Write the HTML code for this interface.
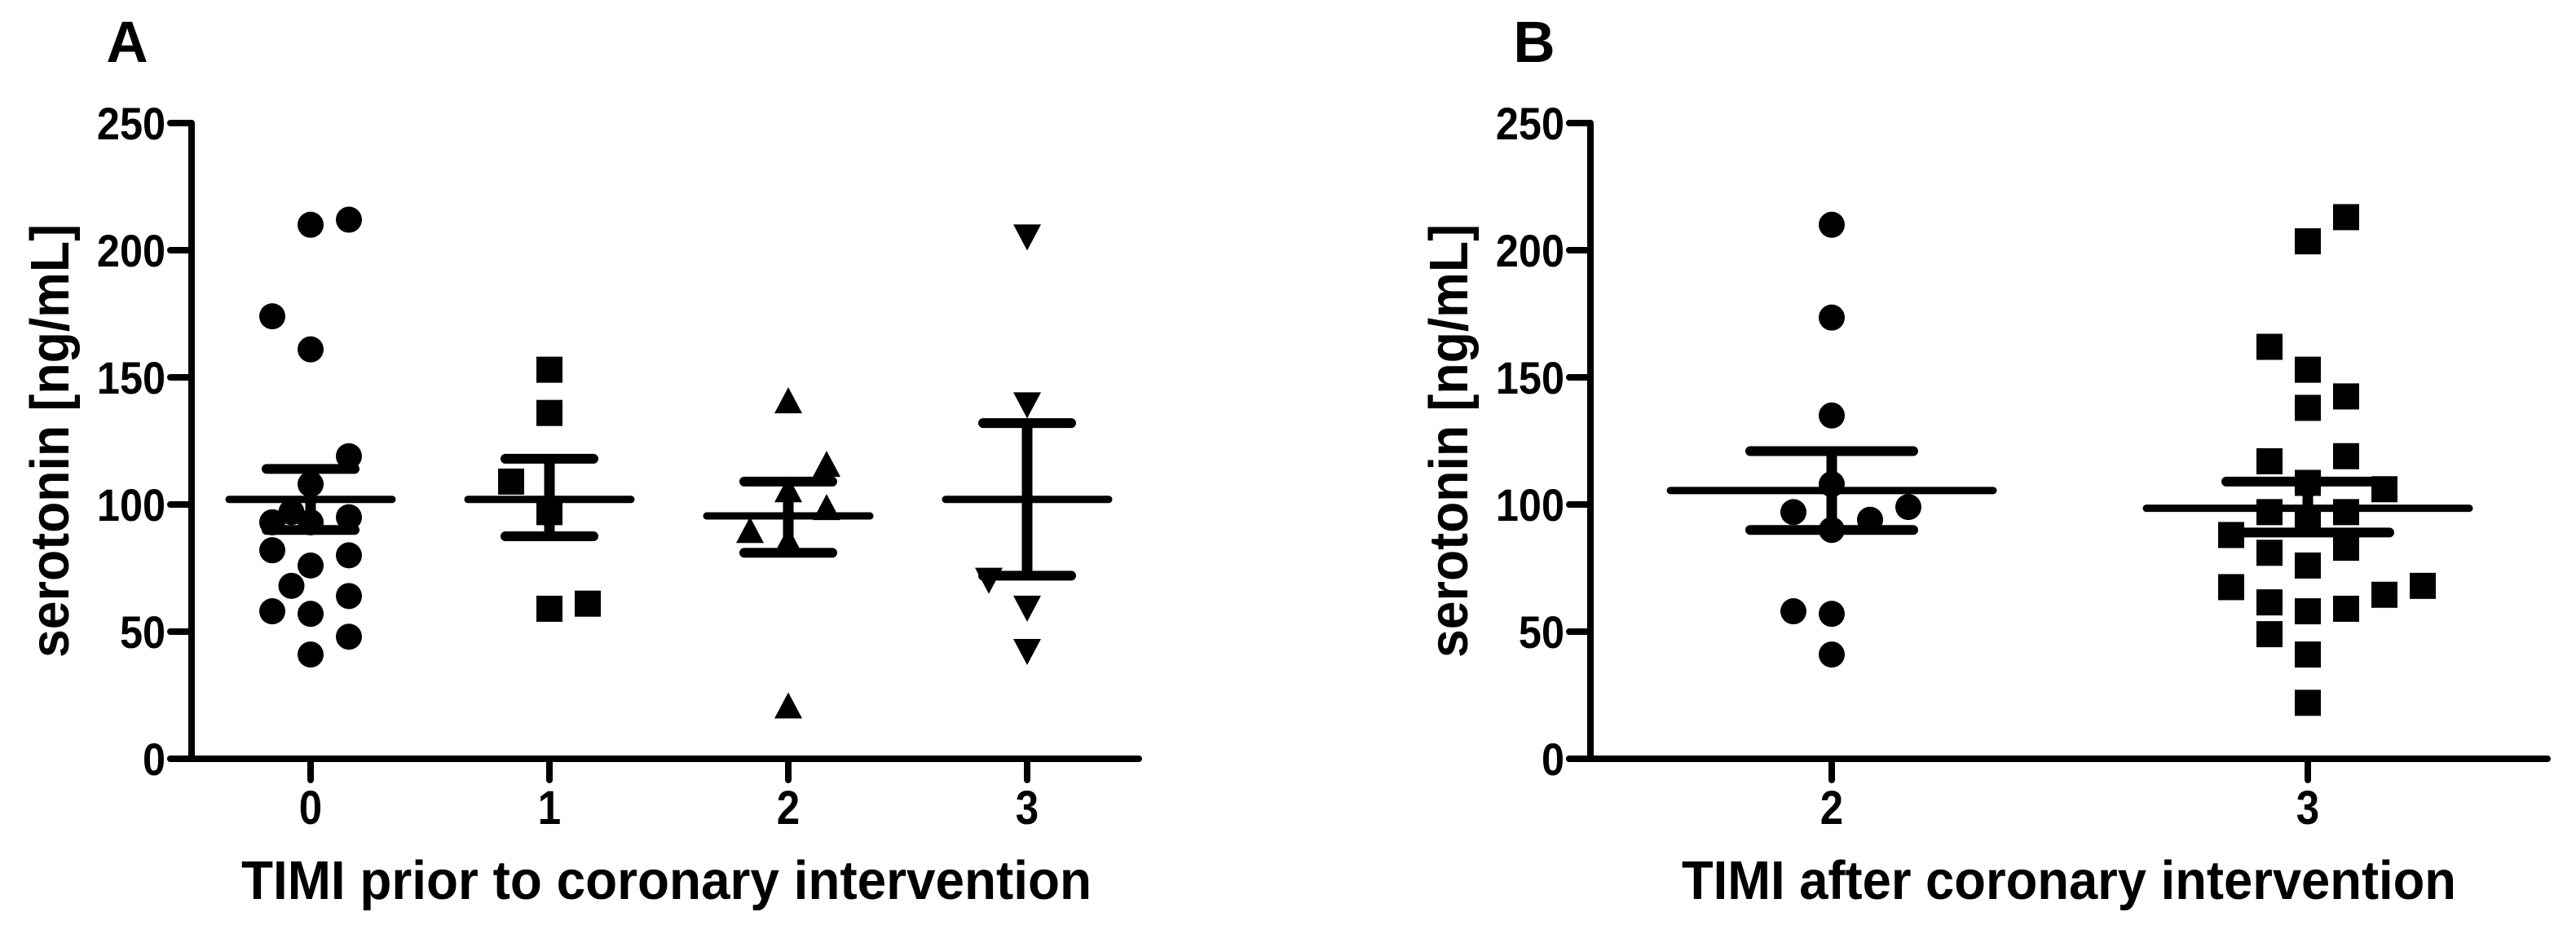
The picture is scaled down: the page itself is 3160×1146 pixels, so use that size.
<!DOCTYPE html>
<html><head><meta charset="utf-8"><style>
html,body{margin:0;padding:0;background:#fff;}
svg{display:block;font-family:"Liberation Sans",Arial,sans-serif;font-weight:bold;}
</style></head><body>
<svg id="chart" width="3160" height="1146" viewBox="0 0 3160 1146">
<g id="pA"></g>
<g id="pB"></g>
</svg>
<script>
const yTicks = [0, 50, 100, 150, 200, 250];
const catsA = ["0", "1", "2", "3"];
const catsB = ["2", "3"];
// panel A points: [value, jitter column]
const a0Vals = [210, 212, 174, 161, 119, 108, 97, 93, 93, 95, 82, 80, 76, 68, 64, 58, 57, 48, 41];
const a0Cols = [0, 1, -1, 0, 1, 0, -0.5, -1, 0, 1, -1, 1, 0, -0.5, 1, -1, 0, 1, 0];
const a1Vals = [153, 136, 109, 97, 59, 61];
const a1Cols = [0, 0, -1, 0, 0, 1];
const a2Vals = [141, 116, 106, 99, 90, 86, 21];
const a2Cols = [0, 1, 0, 1, -1, 0, 0];
const a3Vals = [205, 139, 70, 59, 42];
const a3Cols = [0, 0, -1, 0, 0];
const aMeans = [102, 102, 95.5, 102];
const aSemHi = [114, 118, 109, 132];
const aSemLo = [90, 87.5, 81, 72];
// panel B points
const b0Vals = [210, 173.5, 135, 108, 97, 99, 94, 90, 58, 57, 41];
const b0Cols = [0, 0, 0, 0, -1, 2, 1, 0, -1, 0, 0];
const b1Vals = [213, 203.5, 162, 153, 142.5, 138, 117, 119, 108.5, 106, 97, 97, 94.5, 88, 83, 81, 76, 67.5, 68, 64.5, 61.5, 59, 58, 49, 41, 22];
const b1Cols = [1, 0, -1, 0, 1, 0, -1, 1, 0, 2, -1, 1, 0, -2, 1, -1, 0, -2, 3, 2, -1, 1, 0, -1, 0, 0];
const bMeans = [105.5, 98.5];
const bSemHi = [121, 109];
const bSemLo = [90, 89];

const NS = "http://www.w3.org/2000/svg";
const Y0 = 931, Y250 = 151;
function yS(v){ return Y0 - (v / 250) * (Y0 - Y250); }
function mk(tag, attrs, parent){ const e = document.createElementNS(NS, tag); for (const k in attrs) e.setAttribute(k, attrs[k]); parent.appendChild(e); return e; }

function marker(g, shape, cx, cy){
  let e;
  if (shape === "circle") e = mk("circle", {cx: cx, cy: cy, r: 16, fill: "#000"}, g);
  else if (shape === "square") e = mk("rect", {x: cx - 16, y: cy - 16, width: 32, height: 32, fill: "#000"}, g);
  else if (shape === "up") e = mk("polygon", {points: `${cx},${cy-16} ${cx+17},${cy+16} ${cx-17},${cy+16}`, fill: "#000"}, g);
  else e = mk("polygon", {points: `${cx-17},${cy-16} ${cx+17},${cy-16} ${cx},${cy+16}`, fill: "#000"}, g);
  
  
}

function panel(g, opt){
  const ax = opt.axisX, xEnd = opt.xEnd;
  // letter
  const L = mk("text", {x: opt.letterX, y: 76, "font-size": 71, "text-anchor": "middle"}, g);
  L.textContent = opt.letter;
  
  
  // axes
  const yaxis = mk("line", {x1: ax, y1: Y250, x2: ax, y2: Y0 + 4, stroke: "#000", "stroke-width": 8}, g);
  
  
  const xaxis = mk("line", {x1: ax - 26, y1: Y0, x2: xEnd, y2: Y0, stroke: "#000", "stroke-width": 8, "stroke-linecap": "round"}, g);
  
  
  yTicks.forEach(t => {
    const y = yS(t);
    const tk = mk("line", {x1: ax - 26, y1: y, x2: ax, y2: y, stroke: "#000", "stroke-width": 8, "stroke-linecap": "round"}, g);
    
    
    const tl = mk("text", {x: ax - 32, y: y + 20, "font-size": 56, "text-anchor": "end", transform: `translate(${ax-32},0) scale(0.9,1) translate(${-(ax-32)},0)`}, g);
    tl.textContent = t;
    
    
  });
  opt.cats.forEach((c, i) => {
    const x = opt.catX[i];
    const tk = mk("line", {x1: x, y1: Y0, x2: x, y2: Y0 + 26, stroke: "#000", "stroke-width": 8, "stroke-linecap": "round"}, g);
    
    
    const tl = mk("text", {x: x, y: 1011, "font-size": 58, "text-anchor": "middle", transform: `translate(${x},0) scale(0.88,1) translate(${-x},0)`}, g);
    tl.textContent = c;
    
    
  });
  // titles
  const xt = mk("text", {x: opt.xtStart, y: 1103, "font-size": 67, textLength: opt.xtLen, lengthAdjust: "spacingAndGlyphs"}, g);
  xt.textContent = opt.xTitle;
  
  
  const yt = mk("text", {x: 0, y: 0, "font-size": 67, "text-anchor": "middle", textLength: 532, lengthAdjust: "spacingAndGlyphs", transform: `translate(${opt.ytX},541) rotate(-90)`}, g);
  yt.textContent = "serotonin [ng/mL]";
  
  
  // points
  opt.series.forEach((s, i) => {
    const sg = mk("g", {}, g);
    
    
    s.vals.forEach((v, j) => marker(sg, s.shape, opt.catX[i] + s.cols[j] * 47, yS(v)));
  });
  // mean and SEM
  opt.means.forEach((m, i) => {
    const x = opt.catX[i];
    const eg = mk("g", {stroke: "#000", "stroke-linecap": "round"}, g);
    
    
    mk("line", {x1: x, y1: yS(opt.hi[i]), x2: x, y2: yS(opt.lo[i]), "stroke-width": 13, "stroke-linecap": "butt"}, eg);
    mk("line", {x1: x - opt.meanW, y1: yS(m), x2: x + opt.meanW, y2: yS(m), "stroke-width": 9}, eg);
    mk("line", {x1: x - opt.capW, y1: yS(opt.hi[i]), x2: x + opt.capW, y2: yS(opt.hi[i]), "stroke-width": 12}, eg);
    mk("line", {x1: x - opt.capW, y1: yS(opt.lo[i]), x2: x + opt.capW, y2: yS(opt.lo[i]), "stroke-width": 12}, eg);
  });
}

panel(document.getElementById("pA"), {
  letter: "A", letterX: 156, axisX: 235, xEnd: 1397, cats: catsA, catX: [381, 674, 967, 1260],
  xTitle: "TIMI prior to coronary intervention", xtStart: 296, xtLen: 1043, ytX: 84,
  series: [{vals: a0Vals, cols: a0Cols, shape: "circle"}, {vals: a1Vals, cols: a1Cols, shape: "square"},
           {vals: a2Vals, cols: a2Cols, shape: "up"}, {vals: a3Vals, cols: a3Cols, shape: "down"}],
  means: aMeans, hi: aSemHi, lo: aSemLo, meanW: 100, capW: 54
});
panel(document.getElementById("pB"), {
  letter: "B", letterX: 1882, axisX: 1951, xEnd: 3125, cats: catsB, catX: [2247, 2831],
  xTitle: "TIMI after coronary intervention", xtStart: 2063, xtLen: 950, ytX: 1800,
  series: [{vals: b0Vals, cols: b0Cols, shape: "circle"}, {vals: b1Vals, cols: b1Cols, shape: "square"}],
  means: bMeans, hi: bSemHi, lo: bSemLo, meanW: 198, capW: 100
});
</script>
</body></html>
